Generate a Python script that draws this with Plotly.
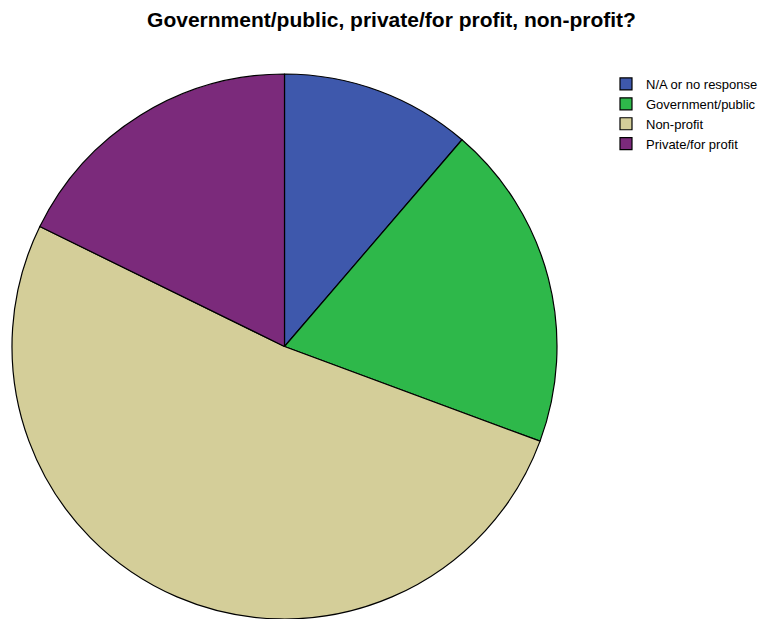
import plotly.graph_objects as go

# Survey response counts by organisation type
categories = ["N/A or no response", "Government/public", "Non-profit", "Private/for profit"]
counts = [7, 12, 32, 11]
colors = ["#3E58AC", "#2EB84A", "#D4CE99", "#7B2A7B"]

fig = go.Figure(
    go.Pie(
        labels=categories,
        values=counts,
        sort=False,
        direction="clockwise",
        rotation=0,
        textinfo="none",
        hoverinfo="label+value+percent",
        marker=dict(colors=colors, line=dict(color="#000000", width=1.2)),
        domain=dict(x=[0, 547 / 761], y=[0, 1]),
    )
)

fig.update_layout(
    width=772,
    height=619,
    paper_bgcolor="white",
    plot_bgcolor="white",
    margin=dict(l=11, r=0, t=74, b=0),
    title=dict(
        text="<b>Government/public, private/for profit, non-profit?</b>",
        x=0.5,
        xref="paper",
        xanchor="center",
        y=1 - 20 / 619,
        yanchor="middle",
        font=dict(family="Liberation Sans, Arial, sans-serif", size=21, color="black"),
    ),
    legend=dict(
        x=(606 - 11) / 761,
        xanchor="left",
        y=1 + 5 / 545,
        yanchor="top",
        font=dict(family="Liberation Sans, Arial, sans-serif", size=13, color="black"),
        bgcolor="rgba(0,0,0,0)",
        itemwidth=30,
    ),
    showlegend=True,
)

fig.write_html("out.html")
